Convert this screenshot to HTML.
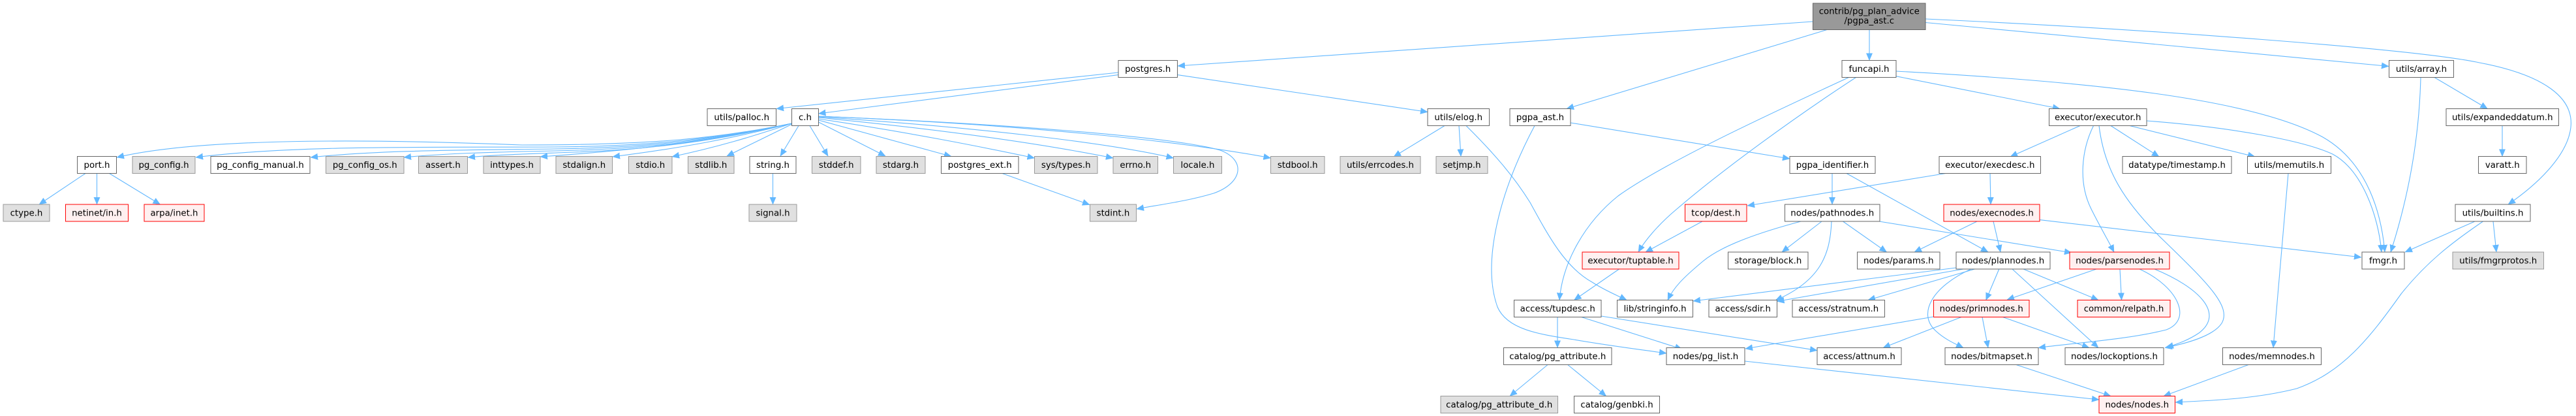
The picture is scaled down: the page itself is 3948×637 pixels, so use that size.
<!DOCTYPE html>
<html>
<head>
<meta charset="utf-8">
<style>
html,body{margin:0;padding:0;background:#fff;}
svg{display:block;}
.e{fill:none;stroke:#63b8ff;stroke-width:1.1;}
.w{fill:#fff;stroke:#666;stroke-width:1;}
.g{fill:#e0e0e0;stroke:#999;stroke-width:1;}
.r{fill:#fff0f0;stroke:#f00;stroke-width:1;}
.d{fill:#999;stroke:#666;stroke-width:1;}
text{font-family:"DejaVu Sans","Liberation Sans",sans-serif;font-size:13.33px;fill:#000;text-anchor:middle;}
</style>
</head>
<body>
<svg width="3948" height="637" viewBox="0 0 3948 637" xmlns="http://www.w3.org/2000/svg">
<defs>
<marker id="a" viewBox="0 0 11 10" refX="11" refY="5" markerWidth="11" markerHeight="10" markerUnits="userSpaceOnUse" orient="auto">
<path d="M0,0.3 L11,5 L0,9.7z" fill="#63b8ff" stroke="#63b8ff" stroke-width="0.5"/>
</marker>
</defs>
<rect x="0" y="0" width="3948" height="637" fill="#fff"/>

<g marker-end="url(#a)">
<!-- contrib edges -->
<path class="e" d="M2778.5,33 L1805,101"/>
<path class="e" d="M2800,45.5 L2401,166.5"/>
<path class="e" d="M2865,45.5 L2865,92.5"/>
<path class="e" d="M2951,34.5 L3661,101.5"/>
<path class="e" d="M2951,29 C3300,45 3700,75 3800,96 C3900,115 3945,150 3940,195 C3935,240 3885,285 3844,313"/>
<!-- postgres.h -->
<path class="e" d="M1714,111 L1190,166.5"/>
<path class="e" d="M1714,114.6 L1254.5,174"/>
<path class="e" d="M1804.5,114.6 L2188,171.5"/>
<!-- c.h left fan -->
<path class="e" d="M1213.5,189 C1100,212 1000,222 800,222 C550,212 300,212 179,241"/>
<path class="e" d="M1213.5,189 C1100,212 1000,224 850,225 C650,226 450,222 300,241"/>
<path class="e" d="M1213.5,189 C1100,213 1000,226 850,228 C700,230 580,230 476,241"/>
<path class="e" d="M1213.5,189 C1100,214 1000,228 850,231 C750,233 680,235 619,241"/>
<path class="e" d="M1213.5,189 C1100,215 1000,229 880,233 C800,236 760,237 717,241"/>
<path class="e" d="M1213.5,189 C1100,214 1000,228 828,240"/>
<path class="e" d="M1213.5,189 C1120,212 1050,226 939,240"/>
<path class="e" d="M1213.5,189 C1150,210 1100,225 1030,240"/>
<path class="e" d="M1214,190 L1114,239"/>
<path class="e" d="M1224,192.5 L1196,239"/>
<path class="e" d="M1241,192.5 L1269,239"/>
<!-- c.h right fan -->
<path class="e" d="M1254.5,187 L1357,239"/>
<path class="e" d="M1254.5,184 C1330,205 1400,224 1458,239.5"/>
<path class="e" d="M1254.5,182 C1400,204 1500,224 1585.5,242"/>
<path class="e" d="M1254.5,180 C1450,199 1600,221 1706,242"/>
<path class="e" d="M1254.5,179 C1500,195 1700,219 1798.5,242"/>
<path class="e" d="M1254.5,178 C1550,190 1800,214 1947.5,242"/>
<path class="e" d="M1254.5,178 C1550,190 1800,210 1870,230 C1910,245 1905,280 1860,296 C1820,308 1780,313 1742,320"/>
<!-- level 3/4 small -->
<path class="e" d="M1536,265.5 L1670,313.5"/>
<path class="e" d="M1184.5,265.5 L1184.5,313"/>
<path class="e" d="M131,265.5 L60,313"/>
<path class="e" d="M148.5,265.5 L148.5,313"/>
<path class="e" d="M167.5,265.5 L245.5,313"/>
<!-- elog -->
<path class="e" d="M2214,192.5 L2136,240"/>
<path class="e" d="M2236,192.5 L2239,239.5"/>
<path class="e" d="M2247,192.5 C2290,235 2320,270 2345,310 C2375,365 2400,410 2440,432 C2460,445 2480,453 2493,459.5"/>
<!-- pgpa_ast -->
<path class="e" d="M2407,188 L2743,243"/>
<path class="e" d="M2352,192.5 C2300,290 2270,400 2295,470 C2310,505 2360,512 2412,520 C2470,530 2520,536 2554,541"/>
<!-- funcapi -->
<path class="e" d="M2833.5,118.5 C2700,180 2550,250 2480,300 C2430,340 2395,400 2390,459.5"/>
<path class="e" d="M2844.5,118.5 C2750,180 2640,260 2570,320 C2540,345 2520,370 2511,386"/>
<path class="e" d="M2906,116.7 L3157,166.5"/>
<path class="e" d="M2906,109 C3200,125 3450,150 3560,210 C3630,250 3650,330 3655,386"/>
<!-- executor -->
<path class="e" d="M3290,185 C3420,195 3530,215 3575,236 C3620,260 3645,330 3650,386"/>
<path class="e" d="M3188,192.5 L3081,240"/>
<path class="e" d="M3208.5,192.5 C3190,230 3185,280 3205,320 C3220,350 3232,370 3240,386"/>
<path class="e" d="M3217,192.5 C3225,260 3255,310 3320,372 C3385,435 3420,470 3405,495 C3392,515 3350,526 3318,532.5"/>
<path class="e" d="M3235,192.5 L3309,240"/>
<path class="e" d="M3264,192.5 L3456,240"/>
<!-- execdesc / pgpa_identifier -->
<path class="e" d="M3050,265.5 L3051,313"/>
<path class="e" d="M2982,265.5 L2678,315"/>
<path class="e" d="M2808,265.5 L2808,313"/>
<path class="e" d="M2830,265.5 L3047,386"/>
<!-- execnodes -->
<path class="e" d="M3030,339 L2934,386"/>
<path class="e" d="M3055,339 L3066,386"/>
<path class="e" d="M3126,336.6 L3619,394"/>
<!-- pathnodes -->
<path class="e" d="M2824.5,339 L2891.5,386"/>
<path class="e" d="M2880,339 L3175,387"/>
<path class="e" d="M2792,339 L2731,386"/>
<path class="e" d="M2760,339 C2700,355 2640,375 2610,400 C2580,425 2565,440 2556,459.5"/>
<path class="e" d="M2807,339 C2805,390 2790,430 2721,460"/>
<!-- dest / tuptable -->
<path class="e" d="M2609,339 L2522,386"/>
<path class="e" d="M2481.5,412 L2412.5,459.5"/>
<!-- plannodes -->
<path class="e" d="M2998,410 L2595,461"/>
<path class="e" d="M3009,412 L2723.5,461.5"/>
<path class="e" d="M3026.5,412 L2863,459.5"/>
<path class="e" d="M3063.8,412 L3043.7,459.5"/>
<path class="e" d="M3020.7,412 C2960,440 2940,480 2965,505 C2980,520 3000,528 3009,532.5"/>
<path class="e" d="M3084,412 L3216,532.5"/>
<path class="e" d="M3101,412 L3216,459.5"/>
<!-- parsenodes -->
<path class="e" d="M3213,412 L3076,459"/>
<path class="e" d="M3249,412 L3251.5,459.5"/>
<path class="e" d="M3279,412 C3340,440 3360,490 3320,505 C3260,520 3180,525 3124,532.5"/>
<path class="e" d="M3302,412 C3370,440 3410,480 3370,510 C3355,520 3340,526 3320,532"/>
<!-- primnodes -->
<path class="e" d="M2963.5,485 L2675,534"/>
<path class="e" d="M3006,485.5 L2886,532.5"/>
<path class="e" d="M3038,485.5 L3047,532.5"/>
<path class="e" d="M3069.5,485.5 L3202,532.5"/>
<!-- tupdesc -->
<path class="e" d="M2387,485.5 L2387,532.5"/>
<path class="e" d="M2423.7,485.5 L2578,534.6"/>
<path class="e" d="M2454,484 L2785,536.6"/>
<!-- pg_attribute -->
<path class="e" d="M2372,558.5 L2314,606.5"/>
<path class="e" d="M2402.7,558.5 L2461.6,606.5"/>
<!-- nodes.h -->
<path class="e" d="M2674,553 L3217,612"/>
<path class="e" d="M3090,558.5 L3235,606.5"/>
<path class="e" d="M3446,558.5 L3316,606.5"/>
<path class="e" d="M3507,265.5 L3484,532.5"/>
<!-- builtins / array -->
<path class="e" d="M3793,339 L3686,386"/>
<path class="e" d="M3821,339 L3826,386"/>
<path class="e" d="M3805.5,339 C3760,370 3720,400 3680,450 C3630,520 3590,570 3520,595 C3460,610 3400,613 3334,616"/>
<path class="e" d="M3710,118.5 C3708,200 3695,290 3664,386"/>
<path class="e" d="M3731,118.5 L3812.4,166.5"/>
<path class="e" d="M3835,192.5 L3835,239.5"/>
</g>

<!-- Nodes -->
<rect class="d" x="2778.5" y="5" width="172.5" height="40.5"/>
<text x="2864.75" y="21.5">contrib/pg_plan_advice</text>
<text x="2864.75" y="36">/pgpa_ast.c</text>

<!-- Row 1 -->
<rect class="w" x="1714" y="92.5" width="90.5" height="26"/><text x="1759.25" y="110">postgres.h</text>
<rect class="w" x="2823" y="92.5" width="83" height="26"/><text x="2864.5" y="110">funcapi.h</text>
<rect class="w" x="3661.5" y="92.5" width="99" height="26"/><text x="3711" y="110">utils/array.h</text>

<!-- Row 2 -->
<rect class="w" x="1084" y="166.5" width="105.5" height="26"/><text x="1136.75" y="184">utils/palloc.h</text>
<rect class="w" x="1213.5" y="166.5" width="41" height="26"/><text x="1234" y="184">c.h</text>
<rect class="w" x="2188" y="166.5" width="94.5" height="26"/><text x="2235.25" y="184">utils/elog.h</text>
<rect class="w" x="2314" y="166.5" width="93" height="26"/><text x="2360.5" y="184">pgpa_ast.h</text>
<rect class="w" x="3140.5" y="166.5" width="149.5" height="26"/><text x="3215.25" y="184">executor/executor.h</text>
<rect class="w" x="3749" y="166.5" width="172.5" height="26"/><text x="3835.25" y="184">utils/expandeddatum.h</text>

<!-- Row 3 -->
<rect class="w" x="118.5" y="239.5" width="60" height="26"/><text x="148.5" y="257">port.h</text>
<rect class="g" x="203" y="239.5" width="96" height="26"/><text x="251" y="257">pg_config.h</text>
<rect class="w" x="323" y="239.5" width="152" height="26"/><text x="399" y="257">pg_config_manual.h</text>
<rect class="g" x="499.5" y="239.5" width="119.5" height="26"/><text x="559.25" y="257">pg_config_os.h</text>
<rect class="g" x="641.5" y="239.5" width="75" height="26"/><text x="679" y="257">assert.h</text>
<rect class="g" x="741" y="239.5" width="87" height="26"/><text x="784.5" y="257">inttypes.h</text>
<rect class="g" x="852" y="239.5" width="86.5" height="26"/><text x="895.25" y="257">stdalign.h</text>
<rect class="g" x="963.5" y="239.5" width="66.5" height="26"/><text x="996.75" y="257">stdio.h</text>
<rect class="g" x="1054.5" y="239.5" width="70.5" height="26"/><text x="1089.75" y="257">stdlib.h</text>
<rect class="w" x="1149" y="239.5" width="71" height="26"/><text x="1184.5" y="257">string.h</text>
<rect class="g" x="1244.5" y="239.5" width="74.5" height="26"/><text x="1281.75" y="257">stddef.h</text>
<rect class="g" x="1343" y="239.5" width="75" height="26"/><text x="1380.5" y="257">stdarg.h</text>
<rect class="w" x="1442.5" y="239.5" width="118.5" height="26"/><text x="1501.75" y="257">postgres_ext.h</text>
<rect class="g" x="1585.5" y="239.5" width="96.5" height="26"/><text x="1633.75" y="257">sys/types.h</text>
<rect class="g" x="1706" y="239.5" width="68.5" height="26"/><text x="1740.25" y="257">errno.h</text>
<rect class="g" x="1798.5" y="239.5" width="74" height="26"/><text x="1835.5" y="257">locale.h</text>
<rect class="g" x="1947.5" y="239.5" width="82.5" height="26"/><text x="1988.75" y="257">stdbool.h</text>
<rect class="g" x="2054" y="239.5" width="123" height="26"/><text x="2115.5" y="257">utils/errcodes.h</text>
<rect class="g" x="2201" y="239.5" width="79" height="26"/><text x="2240.5" y="257">setjmp.h</text>
<rect class="w" x="2743" y="239.5" width="131" height="26"/><text x="2808.5" y="257">pgpa_identifier.h</text>
<rect class="w" x="2972" y="239.5" width="155.5" height="26"/><text x="3049.75" y="257">executor/execdesc.h</text>
<rect class="w" x="3253" y="239.5" width="167" height="26"/><text x="3336.5" y="257">datatype/timestamp.h</text>
<rect class="w" x="3444.5" y="239.5" width="128" height="26"/><text x="3508.5" y="257">utils/memutils.h</text>
<rect class="w" x="3798.5" y="239.5" width="73.5" height="26"/><text x="3835.25" y="257">varatt.h</text>

<!-- Row 4 -->
<rect class="g" x="5" y="313" width="71" height="26"/><text x="40.5" y="330.5">ctype.h</text>
<rect class="r" x="100.5" y="313" width="96" height="26"/><text x="148.5" y="330.5">netinet/in.h</text>
<rect class="r" x="221" y="313" width="92" height="26"/><text x="267" y="330.5">arpa/inet.h</text>
<rect class="g" x="1148" y="313" width="73" height="26"/><text x="1184.5" y="330.5">signal.h</text>
<rect class="g" x="1670.5" y="313" width="71" height="26"/><text x="1706" y="330.5">stdint.h</text>
<rect class="r" x="2582.5" y="313" width="94.5" height="26"/><text x="2629.75" y="330.5">tcop/dest.h</text>
<rect class="w" x="2735.5" y="313" width="145.5" height="26"/><text x="2808.25" y="330.5">nodes/pathnodes.h</text>
<rect class="r" x="2979" y="313" width="147" height="26"/><text x="3052.5" y="330.5">nodes/execnodes.h</text>
<rect class="w" x="3763" y="313" width="115" height="26"/><text x="3820.5" y="330.5">utils/builtins.h</text>

<!-- Row 5 -->
<rect class="r" x="2425" y="386" width="148" height="26"/><text x="2499" y="403.5">executor/tuptable.h</text>
<rect class="w" x="2648.5" y="386" width="122.5" height="26"/><text x="2709.75" y="403.5">storage/block.h</text>
<rect class="w" x="2846.5" y="386" width="126.5" height="26"/><text x="2909.75" y="403.5">nodes/params.h</text>
<rect class="w" x="2998" y="386" width="144" height="26"/><text x="3070" y="403.5">nodes/plannodes.h</text>
<rect class="r" x="3172" y="386" width="153" height="26"/><text x="3248.5" y="403.5">nodes/parsenodes.h</text>
<rect class="w" x="3620" y="386" width="65" height="26"/><text x="3652.5" y="403.5">fmgr.h</text>
<rect class="g" x="3759" y="386" width="139.5" height="26"/><text x="3828.75" y="403.5">utils/fmgrprotos.h</text>

<!-- Row 6 -->
<rect class="w" x="2320.5" y="459.5" width="133.5" height="26"/><text x="2387.25" y="477">access/tupdesc.h</text>
<rect class="w" x="2478.5" y="459.5" width="116" height="26"/><text x="2536.5" y="477">lib/stringinfo.h</text>
<rect class="w" x="2619" y="459.5" width="104.5" height="26"/><text x="2671.25" y="477">access/sdir.h</text>
<rect class="w" x="2747" y="459.5" width="141.5" height="26"/><text x="2817.75" y="477">access/stratnum.h</text>
<rect class="r" x="2963.5" y="459.5" width="146.5" height="26"/><text x="3036.75" y="477">nodes/primnodes.h</text>
<rect class="r" x="3184" y="459.5" width="142" height="26"/><text x="3255" y="477">common/relpath.h</text>

<!-- Row 7 -->
<rect class="w" x="2304.5" y="532.5" width="165.5" height="26"/><text x="2387.25" y="550">catalog/pg_attribute.h</text>
<rect class="w" x="2554" y="532.5" width="120" height="26"/><text x="2614" y="550">nodes/pg_list.h</text>
<rect class="w" x="2785" y="532.5" width="129" height="26"/><text x="2849.5" y="550">access/attnum.h</text>
<rect class="w" x="2981" y="532.5" width="143" height="26"/><text x="3052.5" y="550">nodes/bitmapset.h</text>
<rect class="w" x="3165" y="532.5" width="151" height="26"/><text x="3240.5" y="550">nodes/lockoptions.h</text>
<rect class="w" x="3406.5" y="532.5" width="151" height="26"/><text x="3482" y="550">nodes/memnodes.h</text>

<!-- Row 8 -->
<rect class="g" x="2208" y="606.5" width="179.5" height="26"/><text x="2297.75" y="624">catalog/pg_attribute_d.h</text>
<rect class="w" x="2412.5" y="606.5" width="131" height="26"/><text x="2478" y="624">catalog/genbki.h</text>
<rect class="r" x="3217" y="606.5" width="116.5" height="26"/><text x="3275.25" y="624">nodes/nodes.h</text>
</svg>
</body>
</html>
